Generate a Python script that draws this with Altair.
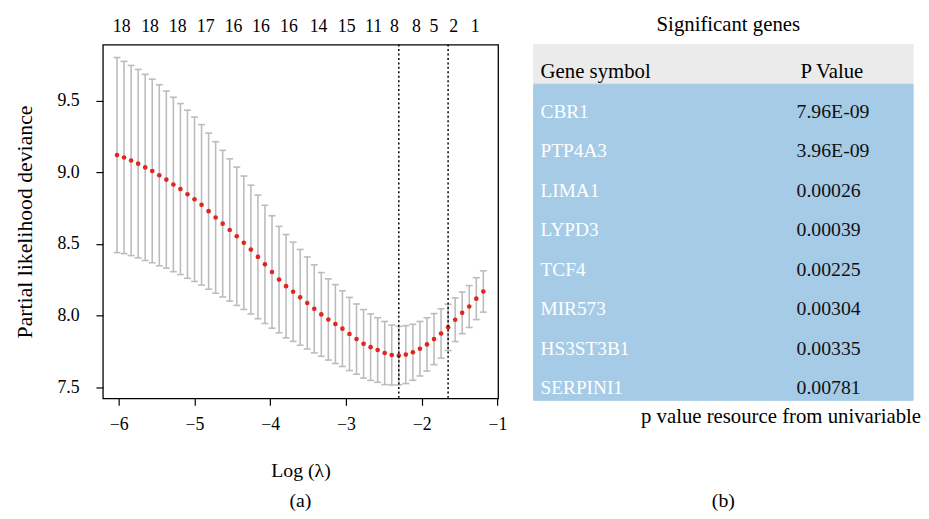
import altair as alt
import pandas as pd

# ---- data ----
log_lambda = [-6.022, -5.929, -5.836, -5.743, -5.650, -5.557, -5.464, -5.371, -5.278, -5.185,
              -5.092, -4.999, -4.906, -4.813, -4.720, -4.627, -4.534, -4.441, -4.348, -4.255,
              -4.162, -4.069, -3.976, -3.883, -3.790, -3.697, -3.604, -3.511, -3.418, -3.325,
              -3.232, -3.139, -3.046, -2.953, -2.860, -2.767, -2.674, -2.581, -2.488, -2.395,
              -2.302, -2.209, -2.116, -2.023, -1.930, -1.837, -1.744, -1.651, -1.558, -1.465,
              -1.372, -1.279, -1.186]
cv_mean = [9.120, 9.103, 9.082, 9.060, 9.034, 9.009, 8.979, 8.949, 8.915, 8.883,
           8.847, 8.812, 8.773, 8.729, 8.685, 8.642, 8.598, 8.554, 8.509, 8.461,
           8.410, 8.358, 8.305, 8.252, 8.206, 8.167, 8.128, 8.089, 8.048, 8.009,
           7.974, 7.942, 7.910, 7.873, 7.837, 7.804, 7.781, 7.761, 7.740, 7.726,
           7.722, 7.729, 7.745, 7.770, 7.800, 7.837, 7.876, 7.919, 7.972, 8.020,
           8.064, 8.119, 8.169]
cv_upper = [9.800, 9.773, 9.745, 9.717, 9.683, 9.649, 9.610, 9.566, 9.523, 9.479,
            9.433, 9.385, 9.332, 9.273, 9.213, 9.153, 9.094, 9.036, 8.974, 8.910,
            8.841, 8.770, 8.697, 8.623, 8.566, 8.513, 8.462, 8.410, 8.355, 8.301,
            8.257, 8.217, 8.174, 8.128, 8.082, 8.043, 8.013, 7.986, 7.960, 7.935,
            7.926, 7.931, 7.940, 7.960, 7.986, 8.015, 8.048, 8.080, 8.124, 8.165,
            8.210, 8.265, 8.313]
cv_lower = [8.440, 8.433, 8.419, 8.403, 8.385, 8.369, 8.348, 8.332, 8.307, 8.287,
            8.261, 8.239, 8.214, 8.185, 8.157, 8.131, 8.102, 8.072, 8.044, 8.012,
            7.979, 7.946, 7.913, 7.881, 7.846, 7.821, 7.794, 7.768, 7.741, 7.717,
            7.691, 7.667, 7.646, 7.618, 7.592, 7.565, 7.549, 7.536, 7.520, 7.517,
            7.518, 7.527, 7.550, 7.580, 7.614, 7.659, 7.704, 7.758, 7.820, 7.875,
            7.918, 7.973, 8.025]
lambda_lines = [-2.302, -1.651]
top_positions = [-5.961, -5.586, -5.221, -4.852, -4.483, -4.122, -3.752, -3.361,
                 -2.990, -2.634, -2.360, -2.070, -1.839, -1.578, -1.295]
top_counts = ["18", "18", "18", "17", "16", "16", "16", "14", "15", "11", "8", "8", "5", "2", "1"]

x_ticks = [-6, -5, -4, -3, -2, -1]
y_ticks = [7.5, 8.0, 8.5, 9.0, 9.5]

table_header = ["Gene symbol", "P Value"]
genes = ["CBR1", "PTP4A3", "LIMA1", "LYPD3", "TCF4", "MIR573", "HS3ST3B1", "SERPINI1"]
pvalues = ["7.96E-09", "3.96E-09", "0.00026", "0.00039", "0.00225", "0.00304", "0.00335", "0.00781"]
table_title = "Significant genes"
table_note = "p value resource from univariable"

# ---- styling ----
FONT = "Liberation Serif"
RED = "#e0261d"
GREY = "#bcbcbc"
BLUE = "#a5cbe7"
HEAD = "#ebebeb"

cv = pd.DataFrame({"logl": log_lambda, "mean": cv_mean, "hi": cv_upper, "lo": cv_lower})
vl = pd.DataFrame({"logl": lambda_lines})
tl = pd.DataFrame({"logl": top_positions, "nz": top_counts})

xscale = alt.Scale(domain=[-6.209, -0.991], nice=False, zero=False)
yscale = alt.Scale(domain=[7.424, 9.89], nice=False, zero=False)


def X():
    return alt.X("logl:Q", scale=xscale,
                 axis=alt.Axis(values=x_ticks, format="d", title="Log (λ)",
                               labelPadding=11, titlePadding=27, titleFontSize=20,
                               labelFlush=False))


def Y(field):
    return alt.Y(field + ":Q", scale=yscale,
                 axis=alt.Axis(values=y_ticks, format=".1f",
                               title="Partial likelihood deviance",
                               labelPadding=17, titlePadding=21, titleFontSize=22,
                               labelFlush=False))


bars = alt.Chart(cv).mark_rule(color=GREY, strokeWidth=1.6).encode(
    x=X(), y=Y("lo"), y2="hi:Q")
cap_hi = alt.Chart(cv).mark_tick(orient="horizontal", size=7, thickness=1.6,
                                 color=GREY, opacity=1).encode(x=X(), y=Y("hi"))
cap_lo = alt.Chart(cv).mark_tick(orient="horizontal", size=7, thickness=1.6,
                                 color=GREY, opacity=1).encode(x=X(), y=Y("lo"))
pts = alt.Chart(cv).mark_circle(size=22, color=RED, opacity=1).encode(x=X(), y=Y("mean"))
vlines = alt.Chart(vl).mark_rule(color="black", strokeDash=[2, 2.5], strokeWidth=1.5).encode(x=X())
tops = alt.Chart(tl).mark_text(font=FONT, fontSize=18, baseline="alphabetic",
                               color="black").encode(x=X(), y=alt.value(-13), text="nz:N")
lab_a = alt.Chart(pd.DataFrame({"t": ["(a)"]})).mark_text(
    font=FONT, fontSize=20, baseline="middle", color="black").encode(
    x=alt.value(200), y=alt.value(462), text="t:N")

left = alt.layer(bars, cap_hi, cap_lo, pts, vlines, tops, lab_a).properties(
    width=400, height=358,
    view=alt.ViewBackground(stroke="black", strokeWidth=1.3))

# ---- table ----
rows = pd.DataFrame({
    "row": list(range(len(genes) + 1)),
    "gene": [table_header[0]] + genes,
    "pval": [table_header[1]] + pvalues,
})
band = alt.Scale(type="band", paddingInner=0, paddingOuter=0)
YR = alt.Y("row:O", scale=band, axis=None)
row_colour = alt.condition("datum.row == 0", alt.value(HEAD), alt.value(BLUE))

bg = alt.Chart(rows).mark_rect(strokeWidth=1).encode(
    y=YR, x=alt.value(0), x2=alt.value(384), fill=row_colour, stroke=row_colour)
head_txt = alt.Chart(rows).transform_filter("datum.row == 0").mark_text(
    font=FONT, fontSize=21, align="left", baseline="alphabetic", dy=14, color="black").encode(
    y=YR, x=alt.value(7), text="gene:N")
head_p = alt.Chart(rows).transform_filter("datum.row == 0").mark_text(
    font=FONT, fontSize=21, align="left", baseline="alphabetic", dy=14, color="black").encode(
    y=YR, x=alt.value(270), text="pval:N")
gene_txt = alt.Chart(rows).transform_filter("datum.row > 0").mark_text(
    font=FONT, fontSize=19.5, align="left", baseline="alphabetic", dy=14, color="white").encode(
    y=YR, x=alt.value(7), text="gene:N")
p_txt = alt.Chart(rows).transform_filter("datum.row > 0").mark_text(
    font=FONT, fontSize=20, align="left", baseline="alphabetic", dy=14, color="#111111").encode(
    y=YR, x=alt.value(266), text="pval:N")
ttl = alt.Chart(pd.DataFrame({"t": [table_title]})).mark_text(
    font=FONT, fontSize=21, align="center", baseline="alphabetic", color="black").encode(
    x=alt.value(197), y=alt.value(-14), text="t:N")
note = alt.Chart(pd.DataFrame({"t": [table_note]})).mark_text(
    font=FONT, fontSize=21, align="right", baseline="alphabetic", color="black").encode(
    x=alt.value(392), y=alt.value(383), text="t:N")
lab_b = alt.Chart(pd.DataFrame({"t": ["(b)"]})).mark_text(
    font=FONT, fontSize=20, baseline="middle", color="black").encode(
    x=alt.value(192), y=alt.value(462), text="t:N")

right = alt.layer(bg, head_txt, head_p, gene_txt, p_txt, ttl, note, lab_b).properties(
    width=384, height=360)

chart = alt.hconcat(left, right, spacing=36, bounds="flush").properties(
    padding={"left": 4, "top": 3, "right": 0, "bottom": 0}
).configure_view(strokeWidth=0).configure_axis(
    labelFont=FONT, titleFont=FONT, labelFontSize=18, labelColor="black",
    titleColor="black", titleFontWeight="normal", tickColor="black",
    tickSize=7, tickWidth=1.2, domain=False, grid=False)

chart.save("out.html", embed_options={"renderer": "svg", "actions": False})
